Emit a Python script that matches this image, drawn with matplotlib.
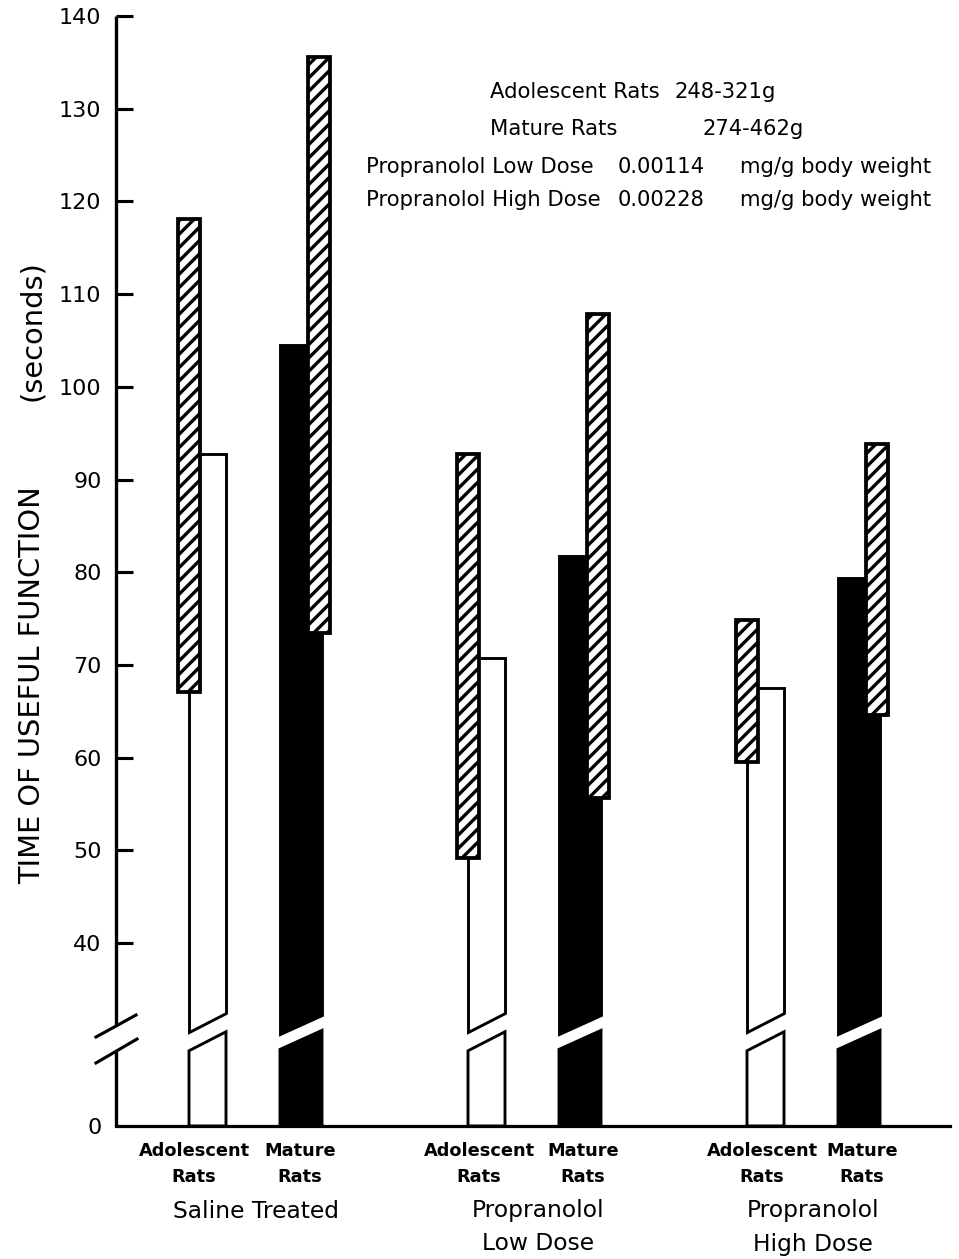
import numpy as np
import matplotlib

matplotlib.use("Agg")
import matplotlib.pyplot as plt
from matplotlib.patches import Polygon, Rectangle

# --------------------------------------------------------------------------- #
# Data
# --------------------------------------------------------------------------- #
GROUPS = ["Saline Treated", "Propranolol\nLow Dose", "Propranolol\nHigh Dose"]
AGES = ["Adolescent\nRats", "Mature\nRats"]

ADOL_MEAN = [92.8, 70.7, 67.5]
ADOL_LOW = [67.1, 49.2, 59.5]
ADOL_HIGH = [118.1, 92.8, 74.8]

MAT_MEAN = [104.5, 81.8, 79.4]
MAT_LOW = [73.4, 55.6, 64.6]
MAT_HIGH = [135.6, 107.8, 93.8]

YTICKS = [40, 50, 60, 70, 80, 90, 100, 110, 120, 130, 140]

NOTES = [  # (left part, value part, unit part)
    ("Adolescent Rats", "248-321g", ""),
    ("Mature Rats", "274-462g", ""),
    ("Propranolol Low Dose", "0.00114", "mg/g body weight"),
    ("Propranolol High Dose", "0.00228", "mg/g body weight"),
]

# --------------------------------------------------------------------------- #
# Layout (pixel canvas 959 x 1259, x data units == pixels)
# --------------------------------------------------------------------------- #
W, H, DPI = 959, 1259, 80
X_AX, X_END = 116, 950          # y-axis position, end of x-axis
Y_BOT, Y_TOP = 1126, 16         # pixel rows of "0" baseline and 140 tick
Y0 = 20.26                      # where the broken axis puts "0" on the linear scale
BRK, RISE = 30.4, 2.05          # break centre / slant of the break cut
GROUP_X0, GROUP_DX = 234, 279
W_WHITE, W_BLACK, W_HATCH = 37, 42, 22

plt.rcParams["font.family"] = ["DejaVu Sans"]
plt.rcParams["hatch.linewidth"] = 3.0
plt.rcParams["hatch.color"] = "black"


def fxy(x, y):
    return x / W, 1 - y / H


def broken_bar(ax, left, width, top, face, gap):
    right = left + width
    lo_l, lo_r = BRK - RISE / 2 - gap / 2, BRK + RISE / 2 - gap / 2
    up_l, up_r = BRK - RISE / 2 + gap / 2, BRK + RISE / 2 + gap / 2
    lower = [(left, Y0), (left, lo_l), (right, lo_r), (right, Y0)]
    upper = [(left, up_l), (left, top), (right, top), (right, up_r)]
    for pts in (lower, upper):
        ax.add_patch(Polygon(pts, closed=True, facecolor=face, edgecolor="black",
                             lw=2.6, zorder=2))


def hatched(ax, cx, lo, hi):
    ax.add_patch(Rectangle((cx - W_HATCH / 2, lo), W_HATCH, hi - lo, facecolor="white",
                           edgecolor="black", hatch="//", lw=3.4, zorder=3))


fig = plt.figure(figsize=(W / DPI, H / DPI), dpi=DPI)
fig.patch.set_facecolor("white")
x0, y0 = fxy(X_AX, Y_BOT)
x1, y1 = fxy(X_END, Y_TOP)
ax = fig.add_axes([x0, y0, x1 - x0, y1 - y0])
ax.set_xlim(X_AX, X_END)
ax.set_ylim(Y0, 140)

for i in range(len(GROUPS)):
    xc = GROUP_X0 + GROUP_DX * i
    wl = xc - 45
    ml = xc + 46
    broken_bar(ax, wl, W_WHITE, ADOL_MEAN[i], "white", 2.0)
    broken_bar(ax, ml, W_BLACK, MAT_MEAN[i], "black", 1.7)
    hatched(ax, wl, ADOL_LOW[i], ADOL_HIGH[i])
    hatched(ax, ml + 39, MAT_LOW[i], MAT_HIGH[i])

# axes: broken left spine drawn by hand
for s in ("top", "right", "left"):
    ax.spines[s].set_visible(False)
ax.spines["bottom"].set_linewidth(2.9)
ax.plot([X_AX, X_AX], [Y0, 28.35], color="black", lw=3.0, clip_on=False,
        solid_capstyle="butt", zorder=4)
ax.plot([X_AX, X_AX], [31.05, 140], color="black", lw=3.0, clip_on=False,
        solid_capstyle="butt", zorder=4)
ax.plot([96, 136], [29.86, 32.23], color="black", lw=2.8, clip_on=False, zorder=4)
ax.plot([96, 137], [27.06, 29.64], color="black", lw=2.8, clip_on=False, zorder=4)

ax.set_xticks([])
ax.set_yticks([Y0] + YTICKS)
ax.set_yticklabels(["0"] + [str(t) for t in YTICKS])
ax.tick_params(axis="y", direction="in", length=15, width=2.8, labelsize=20, pad=13)
ax.yaxis.get_major_ticks()[0].tick1line.set_visible(False)

# y label
fig.text(*fxy(32, 685), "TIME OF USEFUL FUNCTION", rotation=90, ha="center",
         va="center", fontsize=26)
fig.text(*fxy(32, 331), "(seconds)", rotation=90, ha="center", va="center", fontsize=26)

# category / group labels
ADOL_LX = [194, 479, 762]
MAT_LX = [300, 583, 862]
GROUP_LX = [256, 538, 813]
for i, g in enumerate(GROUPS):
    for lx, lab in ((ADOL_LX[i], AGES[0]), (MAT_LX[i], AGES[1])):
        top, bot = lab.split("\n")
        fig.text(*fxy(lx, 1151), top, ha="center", va="center", fontsize=16,
                 fontweight="bold")
        fig.text(*fxy(lx, 1177), bot, ha="center", va="center", fontsize=16,
                 fontweight="bold")
    for k, line in enumerate(g.split("\n")):
        fig.text(*fxy(GROUP_LX[i], 1211 + 33 * k), line, ha="center", va="center",
                 fontsize=21)

# notes block, top right
NOTE_Y = [92, 129, 167, 200]
NOTE_X = [(490, 674, 0), (490, 702, 0), (366, 618, 740), (366, 618, 740)]
for (a, b, c), yy, (xa, xb, xc_) in zip(NOTES, NOTE_Y, NOTE_X):
    fig.text(*fxy(xa, yy), a, ha="left", va="center", fontsize=19)
    fig.text(*fxy(xb, yy), b, ha="left", va="center", fontsize=19)
    if c:
        fig.text(*fxy(xc_, yy), c, ha="left", va="center", fontsize=19)

fig.savefig("out.png", dpi=DPI, facecolor="white")
